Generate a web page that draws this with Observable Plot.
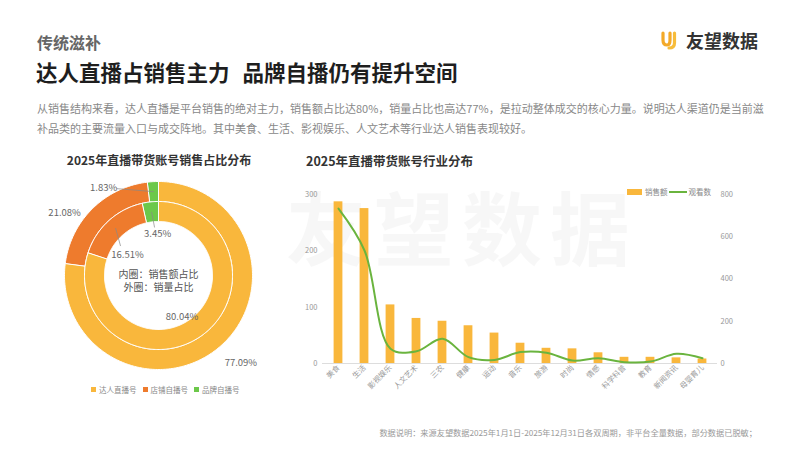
<!DOCTYPE html>
<html><head><meta charset="utf-8">
<script src="https://cdn.jsdelivr.net/npm/d3@7"></script>
<script src="https://cdn.jsdelivr.net/npm/@observablehq/plot@0.6"></script>
<style>
body{margin:0;background:#fff;}
#page{position:relative;width:799px;height:450px;overflow:hidden;font-family:"Noto Sans CJK SC","Noto Sans",sans-serif;background:#fff;}
.abs{position:absolute;white-space:nowrap;}
.lg{display:inline-flex;align-items:center;margin-right:6px;}
</style></head><body>
<div id="page">
  <div class="abs" style="left:286px;top:184px;font-size:80px;line-height:80px;font-weight:700;letter-spacing:8px;color:rgba(0,0,0,0.03);">友望数据</div>
  <div class="abs" style="left:37px;top:31px;font-size:16px;line-height:22px;font-weight:700;color:#666;">传统滋补</div>
  <div class="abs" style="left:36px;top:58px;font-size:21.5px;line-height:28px;font-weight:700;color:#1e1e1e;">达人直播占销售主力<span style="margin-left:13px;">品牌自播仍有提升空间</span></div>
  <div class="abs" style="left:37px;top:98px;font-size:11px;line-height:20px;color:#888;">从销售结构来看，达人直播是平台销售的绝对主力，销售额占比达80%，销量占比也高达77%，是拉动整体成交的核心力量。说明达人渠道仍是当前滋</div>
  <div class="abs" style="left:37px;top:118px;font-size:11px;line-height:20px;color:#888;">补品类的主要流量入口与成交阵地。其中美食、生活、影视娱乐、人文艺术等行业达人销售表现较好。</div>
  <div class="abs" style="left:660px;top:30px;display:flex;align-items:center;">
    <svg width="20" height="20" viewBox="0 0 20 20"><path d="M3 3 V10 Q3 15 7 15 Q10 15 10 10 V3" fill="none" stroke="#F3A928" stroke-width="3.2" stroke-linecap="round"/><path d="M14.5 3 V13 Q14.5 18 9 18" fill="none" stroke="#F7BC3A" stroke-width="3.2" stroke-linecap="round"/></svg>
    <span style="margin-left:6px;font-size:18px;line-height:20px;font-weight:600;color:#333;">友望数据</span>
  </div>
  <div class="abs" style="left:59px;top:152px;width:200px;text-align:center;font-size:12px;line-height:16px;font-weight:700;color:#333;">2025年直播带货账号销售占比分布</div>
  <div class="abs" style="left:306px;top:153px;font-size:12.5px;line-height:16px;font-weight:700;color:#333;">2025年直播带货账号行业分布</div>
  <div id="donut" class="abs" style="left:48px;top:165px;"></div>
  <div id="donutLegend" class="abs" style="left:91px;top:383px;font-size:7.5px;line-height:12px;color:#888;"></div>
  <div id="bars" class="abs" style="left:290px;top:170px;"></div>
  <div id="barLegend" class="abs" style="left:627px;top:186px;font-size:7.5px;line-height:12px;color:#888;display:flex;align-items:center;"></div>
  <div class="abs" style="right:42px;top:425px;font-size:8.2px;line-height:14px;color:#999;">数据说明：来源友望数据2025年1月1日-2025年12月31日各双周期，非平台全量数据，部分数据已脱敏；</div>
</div>
<script>
// ---- data ----
const accountTypes = ["达人直播号", "店铺自播号", "品牌自播号"];
const typeColors = ["#F9B73C", "#EE7B2D", "#6CC84A"];
const volumeShare = [77.09, 21.08, 1.83];   // 外圈：销量占比
const salesShare = [80.04, 16.51, 3.45];    // 内圈：销售额占比
const centerNote = "内圈：销售额占比\n外圈：销量占比";

const industries = ["美食", "生活", "影视娱乐", "人文艺术", "三农", "健康", "运动", "音乐", "旅游", "时尚", "情感", "科学科普", "教育", "新闻资讯", "母婴育儿"];
const salesAmount = [287, 275, 104, 80, 75, 67, 54, 36, 27, 26, 19, 11, 11, 10, 8];
const viewCount = [733, 535, 70, 58, 117, 30, 17, 54, 51, 14, 25, 6, 9, 46, 25];
const leftTicks = [0, 100, 200, 300];
const rightTicks = [0, 200, 400, 600, 800];
const seriesNames = ["销售额", "观看数"];

// ---- donut ----
const R = {outer: [74, 94], inner: [54, 74]};
function ring(shares, r0, r1, name) {
  const pts = []; const anchors = []; let acc = 0;
  shares.forEach((s, i) => {
    const a0 = acc / 100 * 2 * Math.PI, a1 = (acc + s) / 100 * 2 * Math.PI;
    acc += s;
    const n = Math.max(2, Math.ceil((a1 - a0) / (Math.PI / 180)));
    for (let k = 0; k <= n; k++) { const a = a0 + (a1 - a0) * k / n; pts.push({key: name + i, type: accountTypes[i], x: r1 * Math.sin(a), y: r1 * Math.cos(a)}); }
    for (let k = n; k >= 0; k--) { const a = a0 + (a1 - a0) * k / n; pts.push({key: name + i, type: accountTypes[i], x: r0 * Math.sin(a), y: r0 * Math.cos(a)}); }
    const am = (a0 + a1) / 2, rm = (r0 + r1) / 2;
    anchors.push({key: name + i, value: s, ax: rm * Math.sin(am), ay: rm * Math.cos(am)});
  });
  return {pts, anchors};
}
const outerRing = ring(volumeShare, R.outer[0], R.outer[1], "outer");
const innerRing = ring(salesShare, R.inner[0], R.inner[1], "inner");
// label placement (offset from slice anchor) and optional leader end
const labelLayout = {
  outer0: {off: [27, -24]},
  outer1: {off: [-35, 3]},
  outer2: {off: [-50, 4], lead: [-37, 3]},
  inner0: {off: [-14, 10]},
  inner1: {off: [12, -26.5], lead: [5, -18]},
  inner2: {off: [6, -21.6], lead: [3, -15.6]}
};
const labels = [...outerRing.anchors, ...innerRing.anchors].map(d => {
  const L = labelLayout[d.key];
  return {...d, text: d.value.toFixed(2) + "%", lx: d.ax + L.off[0], ly: d.ay + L.off[1],
    hasLead: !!L.lead, ex: L.lead ? d.ax + L.lead[0] : 0, ey: L.lead ? d.ay + L.lead[1] : 0};
});

const donut = Plot.plot({
  width: 220, height: 220, margin: 0,
  x: {domain: [-110, 110], axis: null},
  y: {domain: [-110, 110], axis: null},
  color: {domain: accountTypes, range: typeColors},
  style: {background: "transparent", overflow: "visible", fontFamily: "Noto Sans CJK SC"},
  marks: [
    Plot.line([...outerRing.pts, ...innerRing.pts], {x: "x", y: "y", z: "key", fill: "type", stroke: "#fff", strokeWidth: 1, curve: "linear-closed"}),
    Plot.link(labels.filter(d => d.hasLead), {x1: "ax", y1: "ay", x2: "ex", y2: "ey", stroke: "#888", strokeWidth: 0.7}),
    Plot.text(labels, {x: "lx", y: "ly", text: "text", fontSize: 9.5, fill: "#666"}),
    Plot.text([centerNote], {frameAnchor: "middle", dy: 5, text: d => d, fontSize: 10, lineHeight: 1.25, fill: "#555"})
  ]
});
document.getElementById("donut").appendChild(donut);

const dl = document.getElementById("donutLegend");
accountTypes.forEach((t, i) => {
  dl.insertAdjacentHTML("beforeend", `<span class="lg"><span style="display:inline-block;width:5px;height:5px;background:${typeColors[i]};margin-right:3px;"></span>${t}</span>`);
});

// ---- bar + line ----
const barColor = "#F9B73C", lineColor = "#6AB43E";
const k = leftTicks[leftTicks.length - 1] / rightTicks[rightTicks.length - 1];
const bars = Plot.plot({
  width: 460, height: 240,
  marginLeft: 32, marginRight: 33, marginTop: 24, marginBottom: 47,
  x: {type: "band", domain: industries, padding: 0},
  y: {domain: [0, leftTicks[leftTicks.length - 1]]},
  style: {background: "transparent", overflow: "visible", fontFamily: "Noto Sans CJK SC"},
  marks: [
    Plot.ruleY([0], {stroke: "#ddd"}),
    Plot.barY(industries, {x: d => d, y: (d, i) => salesAmount[i], fill: barColor, insetLeft: 8.6, insetRight: 8.6}),
    Plot.line(industries, {x: d => d, y: (d, i) => viewCount[i] * k, stroke: lineColor, strokeWidth: 2, curve: "catmull-rom"}),
    Plot.axisY(leftTicks, {anchor: "left", tickSize: 0, tickPadding: 5, fontSize: 7.5, color: "#999", label: null}),
    Plot.axisY(rightTicks.map(v => v * k), {anchor: "right", tickSize: 0, tickPadding: 3, fontSize: 7.5, color: "#999", label: null, tickFormat: d => String(Math.round(d / k))}),
    Plot.axisX({tickRotate: -45, tickSize: 0, tickPadding: 3, fontSize: 7.5, color: "#999", label: null})
  ]
});
document.getElementById("bars").appendChild(bars);

document.getElementById("barLegend").innerHTML =
  `<span style="display:inline-block;width:15px;height:6px;background:${barColor};margin-right:3px;"></span>${seriesNames[0]}` +
  `<span style="display:inline-block;width:18px;height:2px;background:${lineColor};margin:0 2px 0 1px;"></span>${seriesNames[1]}`;
</script>
</body></html>
